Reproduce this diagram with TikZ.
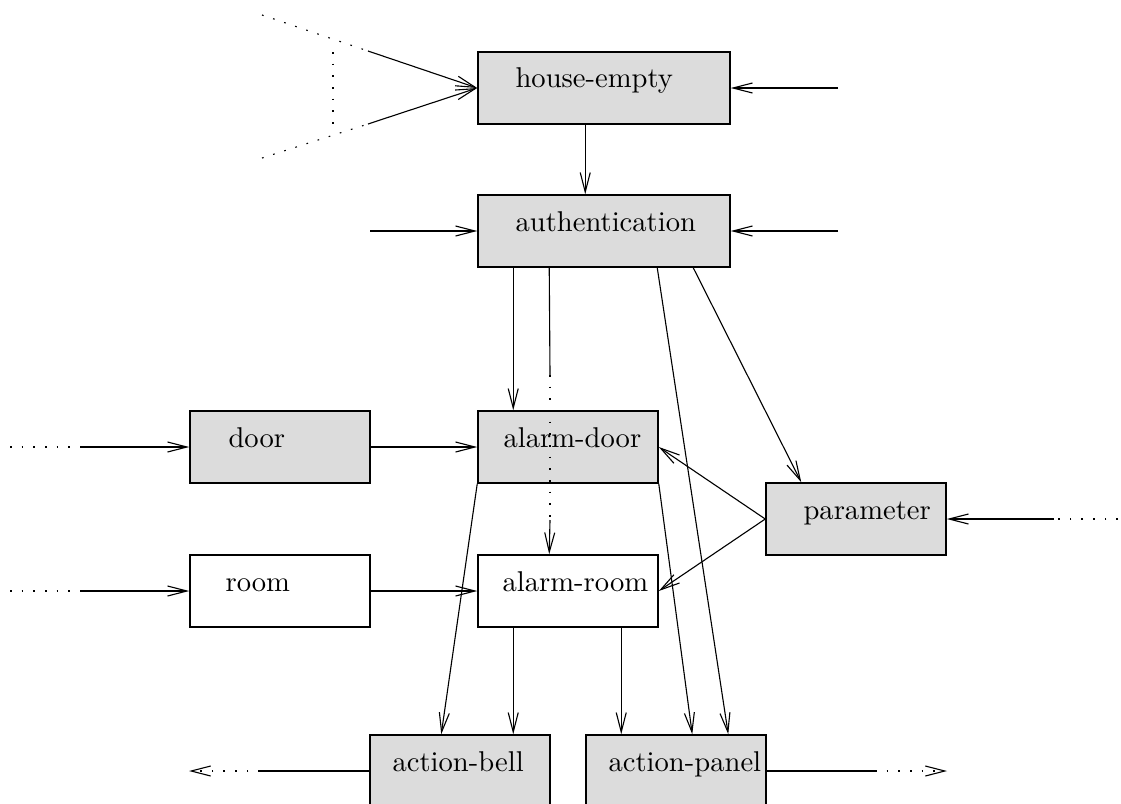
\documentclass[tikz,border=0pt]{standalone}
\usetikzlibrary{arrows.meta,calc}
\definecolor{boxgray}{RGB}{220,220,220}
\newdimen\pxu \pxu=0.36pt
\begin{document}
\begin{tikzpicture}[x=0.36pt,y=-0.36pt,line width=0.4pt,
  tip/.style={-{Straight Barb[length=7pt,width=3.6pt]}},
  dots/.style={dash pattern=on 0.6pt off 3.6pt},
  blockgray/.style={draw,line width=0.55pt,fill=boxgray,minimum width=180\pxu,minimum height=72\pxu,inner sep=0pt},
  blockwhite/.style={blockgray,fill=white},
  wide/.style={minimum width=252\pxu},
  boxtext/.style={anchor=base west,inner sep=0pt,font=\fontsize{10.3}{12}\selectfont}]
\useasboundingbox (0,0) rectangle (1121,803);

% blocks
\node[blockgray,wide] (he) at (604,88) {};
\node[blockgray,wide] (auth) at (604,231) {};
\node[blockgray] (door) at (280,447) {};
\node[blockgray] (ad) at (568,447) {};
\node[blockgray] (param) at (856,519) {};
\node[blockwhite] (room) at (280,591) {};
\node[blockwhite] (ar) at (568,591) {};
\node[blockgray] (bell) at (460,771) {};
\node[blockgray] (panel) at (676,771) {};

% block titles
\node[boxtext] (he-t) at (515,87) {house-empty};
\node[boxtext] (auth-t) at (515,231) {authentication};
\node[boxtext] (door-t) at (228,447) {door};
\node[boxtext] (ad-t) at (503,447) {alarm-door};
\node[boxtext] (param-t) at (803,519) {parameter};
\node[boxtext] (room-t) at (225,591) {room};
\node[boxtext] (ar-t) at (502,591) {alarm-room};
\node[boxtext] (bell-t) at (392,771) {action-bell};
\node[boxtext] (panel-t) at (608,771) {action-panel};

% free line ends
\coordinate (ua) at (262,15);   \coordinate (ub) at (368,51);
\coordinate (la) at (262,158);  \coordinate (lb) at (368,124);
\coordinate (va) at (333,52);   \coordinate (vb) at (333,124);
\coordinate (her) at (838,88);
\coordinate (authl) at (370,231);
\coordinate (authr) at (838,231);
\coordinate (doora) at (10,447); \coordinate (doorb) at (80,447);
\coordinate (rooma) at (10,591); \coordinate (roomb) at (80,591);
\coordinate (parama) at (1118,519); \coordinate (paramb) at (1054,519);
\coordinate (bella) at (260,771); \coordinate (bellb) at (189,771);
\coordinate (panela) at (875,771); \coordinate (panelb) at (947,771);
\coordinate (dta) at (550,375); \coordinate (dtb) at (550,520);

% inputs of house-empty
\draw[dots] (ua) -- (ub);
\draw[dots] (la) -- (lb);
\draw[dots] (va) -- (vb);
\draw[tip] (ub) -- (he.west);
\draw[tip] (lb) -- (he.west);
\draw[tip] (her) -- (he.east);
\draw[tip] ($(he.south west)+(108,0)$) -- ($(auth.north west)+(108,0)$);

% inputs of authentication
\draw[tip] (authl) -- (auth.west);
\draw[tip] (authr) -- (auth.east);

% outputs of authentication
\draw[tip] ($(auth.south west)+(36,0)$) -- ($(ad.north west)+(36,0)$);
\draw ($(auth.south west)+(72,0)$) -- (dta);
\draw[dots] (dta) -- (dtb);
\draw[tip] (dtb) -- ($(ar.north west)+(72,0)$);
\draw[tip] ($(auth.south west)+(180,0)$) -- ($(panel.north west)+(143,0)$);
\draw[tip] ($(auth.south west)+(216,0)$) -- ($(param.north west)+(36,0)$);

% door and room
\draw[dots] (doora) -- (doorb);
\draw[tip] (doorb) -- (door.west);
\draw[dots] (rooma) -- (roomb);
\draw[tip] (roomb) -- (room.west);
\draw[tip] (door.east) -- (ad.west);
\draw[tip] (room.east) -- (ar.west);

% parameter
\draw[dots] (parama) -- (paramb);
\draw[tip] (paramb) -- (param.east);
\draw[tip] (param.west) -- (ad.east);
\draw[tip] (param.west) -- (ar.east);

% alarms to actions
\draw[tip] (ad.south west) -- ($(bell.north west)+(72,0)$);
\draw[tip] ($(ar.south west)+(36,0)$) -- ($(bell.north west)+(144,0)$);
\draw[tip] ($(ar.south west)+(144,0)$) -- ($(panel.north west)+(36,0)$);
\draw[tip] (ad.south east) -- ($(panel.north west)+(107,0)$);

% outputs of actions
\draw (bell.west) -- (bella);
\draw[dots,tip] (bella) -- (bellb);
\draw (panel.east) -- (panela);
\draw[dots,tip] (panela) -- (panelb);
\end{tikzpicture}
\end{document}
